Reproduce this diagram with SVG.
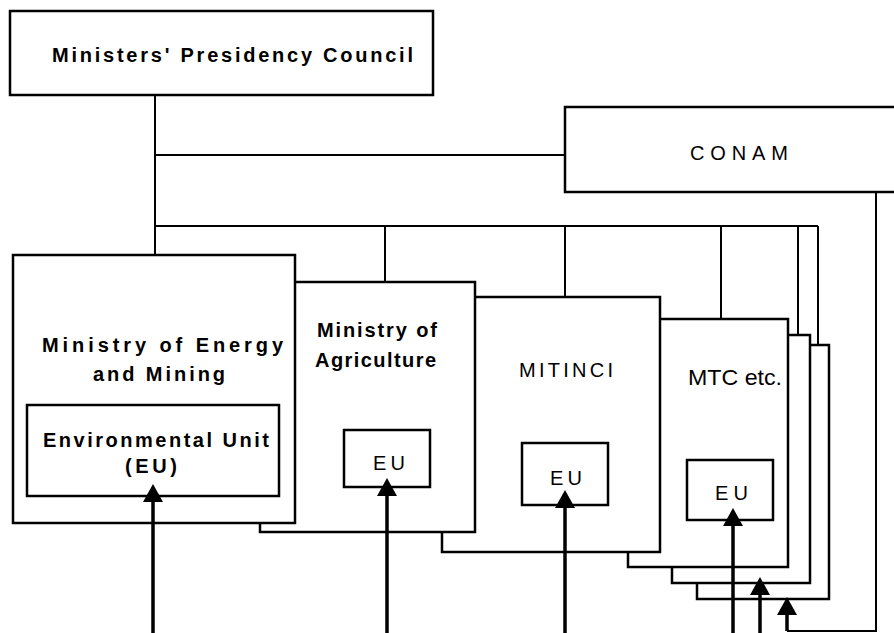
<svg xmlns="http://www.w3.org/2000/svg" width="894" height="633" viewBox="0 0 894 633">
<style>
.box{fill:#fff;stroke:#000;stroke-width:2.5}
.t{font-family:"Liberation Sans",Arial,sans-serif;font-size:20px;fill:#000;font-weight:bold}
.n{font-weight:normal}
.ln{stroke:#000;stroke-width:2;fill:none}
.ar{stroke:#000;stroke-width:3.5;fill:none;marker-end:url(#ah)}
</style>
<defs>
<marker id="ah" viewBox="0 0 18 20" refX="10" refY="10" markerWidth="18" markerHeight="20" markerUnits="userSpaceOnUse" orient="auto">
<path d="M0,0 L18,10 L0,20 z" fill="#000"/>
</marker>
</defs>
<rect width="894" height="633" fill="#fff"/>
<g id="mtc-back2">
<rect class="box" x="697" y="345" width="132" height="254"/>
</g>
<g id="mtc-back1">
<rect class="box" x="672" y="335" width="138" height="248"/>
</g>
<g id="mtc">
<rect class="box" x="628" y="319" width="160" height="248"/>
<text class="t n" x="688" y="385" style="font-size:22px" textLength="94" lengthAdjust="spacingAndGlyphs">MTC etc.</text>
<rect class="box" x="687" y="460" width="86" height="60"/>
<text class="t n" x="715" y="500" textLength="33" lengthAdjust="spacing">EU</text>
</g>
<g id="mitinci">
<rect class="box" x="442" y="297" width="218" height="255"/>
<text class="t n" x="519" y="377" textLength="94" lengthAdjust="spacing">MITINCI</text>
<rect class="box" x="522" y="443" width="86" height="62"/>
<text class="t n" x="550" y="485" textLength="32" lengthAdjust="spacing">EU</text>
</g>
<g id="agriculture">
<rect class="box" x="260" y="282" width="215" height="250"/>
<text class="t" x="317" y="337" textLength="120" lengthAdjust="spacing">Ministry of</text>
<text class="t" x="315" y="367" textLength="121" lengthAdjust="spacing">Agriculture</text>
<rect class="box" x="344" y="430" width="86" height="57"/>
<text class="t n" x="373" y="470" textLength="32" lengthAdjust="spacing">EU</text>
</g>
<g id="energy-mining">
<rect class="box" x="13" y="255" width="282" height="268"/>
<text class="t" x="42" y="352" textLength="241" lengthAdjust="spacing">Ministry of  Energy</text>
<text class="t" x="93" y="381" textLength="132" lengthAdjust="spacing">and Mining</text>
<rect class="box" x="27" y="405" width="252" height="91"/>
<text class="t" x="43" y="447" textLength="226" lengthAdjust="spacing">Environmental Unit</text>
<text class="t" x="125" y="473" textLength="52" lengthAdjust="spacing">(EU)</text>
</g>
<g id="presidency-council">
<rect class="box" x="10" y="11" width="423" height="84"/>
<text class="t" x="52" y="62" textLength="361" lengthAdjust="spacing">Ministers' Presidency Council</text>
</g>
<g id="conam">
<rect class="box" x="565" y="107" width="340" height="85"/>
<text class="t n" x="690" y="160" textLength="98" lengthAdjust="spacing">CONAM</text>
</g>
<g id="connectors">
<path class="ln" d="M155,95 V255 M155,155 H565 M155,226 H818 M385,226 V282 M565,226 V297 M721,226 V319 M798,226 V335 M818,226 V345"/>
<path class="ln" d="M876,192 V631 H787"/>
<line class="ar" x1="153" y1="633" x2="153" y2="492"/>
<line class="ar" x1="387" y1="633" x2="387" y2="486"/>
<line class="ar" x1="565" y1="633" x2="565" y2="498"/>
<line class="ar" x1="733" y1="633" x2="733" y2="516"/>
<line class="ar" x1="760" y1="633" x2="760" y2="585"/>
<line class="ar" x1="787" y1="631" x2="787" y2="605"/>
</g>
</svg>
